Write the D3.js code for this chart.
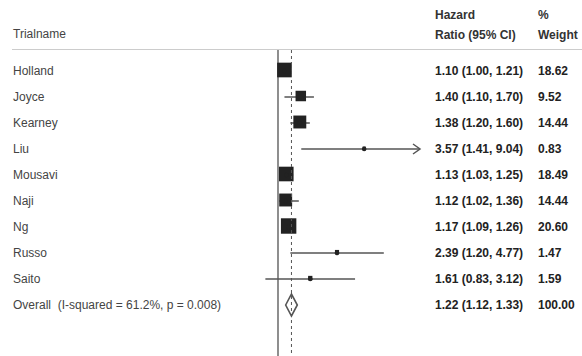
<!DOCTYPE html>
<html>
<head>
<meta charset="utf-8">
<script src="https://cdn.jsdelivr.net/npm/d3@7"></script>
<style>
  body { margin: 0; background: #fff; }
  text { font-family: "Liberation Sans", Arial, sans-serif; font-size: 12px; }
</style>
</head>
<body>
<svg id="chart"></svg>
<script>
// Forest plot: hazard ratios per trial

const trials = ["Holland", "Joyce", "Kearney", "Liu", "Mousavi", "Naji", "Ng", "Russo", "Saito"];
const hr = [1.10, 1.40, 1.38, 3.57, 1.13, 1.12, 1.17, 2.39, 1.61];
const lower = [1.00, 1.10, 1.20, 1.41, 1.03, 1.02, 1.09, 1.20, 0.83];
const upper = [1.21, 1.70, 1.60, 9.04, 1.25, 1.36, 1.26, 4.77, 3.12];
const weights = [18.62, 9.52, 14.44, 0.83, 18.49, 14.44, 20.60, 1.47, 1.59];

const overallLabel = "Overall  (I-squared = 61.2%, p = 0.008)";
const overall = { hr: 1.22, lower: 1.12, upper: 1.33, weight: 100.00 };

const width = 582, height = 356;
const svg = d3.select("#chart").attr("width", width).attr("height", height);

// log scale for the ratios, clipped at the plot edge
const x = d3.scaleLog().domain([1 / 8.14, 8.14]).range([136, 420]);
const rows = trials.concat(["Overall"]);
const y = d3.scalePoint().domain(rows).range([71, 305]);

const fmt = d3.format(".2f");
const ciText = (h, l, u) => `${fmt(h)} (${fmt(l)}, ${fmt(u)})`;

// headers
svg.append("text").attr("x", 13).attr("y", 38).attr("fill", "#444").text("Trialname");
const heads = [
    { t: "Hazard", x: 435, y: 19 }, { t: "Ratio (95% CI)", x: 435, y: 39 },
    { t: "%", x: 538, y: 19 }, { t: "Weight", x: 538, y: 39 }
];
svg.selectAll(".head").data(heads).enter().append("text")
    .attr("x", d => d.x).attr("y", d => d.y)
    .attr("fill", "#333").attr("font-weight", 600)
    .text(d => d.t);

svg.append("line")
    .attr("x1", 12).attr("x2", width)
    .attr("y1", 49.5).attr("y2", 49.5)
    .attr("stroke", "#ccc");

// null line
svg.append("line")
    .attr("x1", x(1)).attr("x2", x(1))
    .attr("y1", 50).attr("y2", height)
    .attr("stroke", "#444").attr("stroke-width", 1.2);

const data = trials.map((t, i) => ({
    name: t, hr: hr[i], lower: lower[i], upper: upper[i], weight: weights[i]
}));

const maxX = x.domain()[1];
const g = svg.append("g");

// CI lines
g.selectAll(".ci").data(data).enter().append("line")
    .attr("x1", d => x(d.lower))
    .attr("x2", d => x(Math.min(d.upper, maxX)))
    .attr("y1", d => y(d.name)).attr("y2", d => y(d.name))
    .attr("stroke", "#555").attr("stroke-width", 1.5);

// arrows for clipped CIs
data.filter(d => d.upper > maxX).forEach(d => {
    const ax = x(maxX), ay = y(d.name);
    g.append("path")
        .attr("d", `M${ax - 7},${ay - 5} L${ax},${ay} L${ax - 7},${ay + 5}`)
        .attr("fill", "none").attr("stroke", "#555").attr("stroke-width", 1.5);
});

// weight boxes
const side = d => 3.4 * Math.sqrt(d.weight);
g.selectAll(".box").data(data).enter().append("rect")
    .attr("x", d => x(d.hr) - side(d) / 2)
    .attr("y", d => y(d.name) - side(d) / 2 - 1)
    .attr("width", side).attr("height", side)
    .attr("fill", "#222");

// point estimates
g.selectAll(".pt").data(data).enter().append("circle")
    .attr("cx", d => x(d.hr)).attr("cy", d => y(d.name))
    .attr("r", 2.3).attr("fill", "#222");

// overall diamond
const oy = y("Overall");
svg.append("path")
    .attr("d", `M${x(overall.lower)},${oy} L${x(overall.hr)},${oy - 11} L${x(overall.upper)},${oy} L${x(overall.hr)},${oy + 11} Z`)
    .attr("fill", "none").attr("stroke", "#555").attr("stroke-width", 1.6);

// overall estimate line
svg.append("line")
    .attr("x1", x(overall.hr)).attr("x2", x(overall.hr))
    .attr("y1", 50).attr("y2", height)
    .attr("stroke", "#555").attr("stroke-width", 1)
    .attr("stroke-dasharray", "3,3");

// left labels
svg.selectAll(".name").data(rows).enter().append("text")
    .attr("x", 13).attr("y", d => y(d) + 4)
    .attr("fill", "#444")
    .style("white-space", "pre")
    .text(d => d === "Overall" ? overallLabel : d);

// right columns
const rightRows = data.concat([{ name: "Overall", hr: overall.hr, lower: overall.lower, upper: overall.upper, weight: overall.weight }]);
svg.selectAll(".ci-text").data(rightRows).enter().append("text")
    .attr("x", 435).attr("y", d => y(d.name) + 4)
    .attr("fill", "#222").attr("font-weight", 600)
    .text(d => ciText(d.hr, d.lower, d.upper));
svg.selectAll(".w-text").data(rightRows).enter().append("text")
    .attr("x", 538).attr("y", d => y(d.name) + 4)
    .attr("fill", "#222").attr("font-weight", 600)
    .text(d => fmt(d.weight));
</script>
</body>
</html>
